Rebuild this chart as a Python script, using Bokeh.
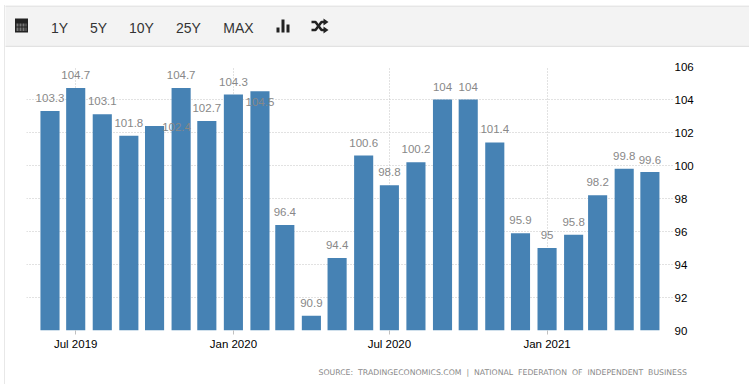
from datetime import datetime, timezone
from bokeh.core.properties import value
from bokeh.embed import file_html
from bokeh.layouts import column
from bokeh.models import ColumnDataSource, FixedTicker, LinearAxis, Range1d
from bokeh.plotting import figure
from bokeh.resources import INLINE

months = ["2019-06","2019-07","2019-08","2019-09","2019-10","2019-11","2019-12",
          "2020-01","2020-02","2020-03","2020-04","2020-05","2020-06","2020-07",
          "2020-08","2020-09","2020-10","2020-11","2020-12","2021-01","2021-02",
          "2021-03","2021-04","2021-05"]
values = [103.3,104.7,103.1,101.8,102.4,104.7,102.7,104.3,104.5,96.4,90.9,94.4,
          100.6,98.8,100.2,104,104,101.4,95.9,95,95.8,98.2,99.8,99.6]
labels = ["103.3","104.7","103.1","101.8","102.4","104.7","102.7","104.3","104.5",
          "96.4","90.9","94.4","100.6","98.8","100.2","104","104","101.4","95.9",
          "95","95.8","98.2","99.8","99.6"]
x_tick_months = ["2019-07","2020-01","2020-07","2021-01"]
x_tick_labels = ["Jul 2019","Jan 2020","Jul 2020","Jan 2021"]
y_ticks = [90,92,94,96,98,100,102,104,106]
header_items = ["1Y","5Y","10Y","25Y","MAX"]
source_text = "SOURCE: TRADINGECONOMICS.COM | NATIONAL FEDERATION OF INDEPENDENT BUSINESS"

def ms(s):
    return datetime.strptime(s, "%Y-%m-%d").replace(tzinfo=timezone.utc).timestamp()*1000
DAY = 86400000.0
xs = [ms(m+"-01") for m in months]
# per-label nudges in pixels (the original's anti-overlap placement)
dx = [0]*24; dy = [-9]*24
dx[4] = 22; dy[4] = 5      # 102.4
dy[8] = 15                 # 104.5
dy[23] = -8                # 99.6

W = 744
# ---- toolbar strip (pixel coordinates of the page)
h = figure(width=W, height=42, x_range=Range1d(5,749), y_range=Range1d(47,5),
           output_backend="svg", toolbar_location=None, min_border=0,
           x_axis_type=None, y_axis_type=None, outline_line_color=None)
h.frame_align = False
h.grid.visible = False
h.quad(left=[0], right=[760], top=[5.5], bottom=[46], fill_color="#f3f3f3",
       line_color="#e2e2e2", line_width=1.5)
h.text(x=[59,98,141,188,238], y=[27]*5, text=header_items, text_font=value("Liberation Sans"),
       text_font_size="14px", text_color="#333333", text_align="center", text_baseline="middle")
# calendar icon
h.quad(left=[14.5], right=[27.5], top=[18], bottom=[32], fill_color="#222222", line_color=None)
h.quad(left=[16,19,22,25,16,19,22,25], right=[18,21,24,26,18,21,24,26],
       top=[23,23,23,23,27,27,27,27], bottom=[26,26,26,26,30.5,30.5,30.5,30.5],
       fill_color="#f3f3f3", line_color=None, fill_alpha=.4)
# bar icon
h.quad(left=[276,281,286], right=[279,284,289], top=[27,19,24], bottom=[32,32,32],
       fill_color="#222222", line_color=None)
# shuffle icon
h.line(x=[311,315,321,325], y=[21.5,21.5,29.5,29.5], line_color="#222222", line_width=2.5)
h.line(x=[311,315,321,325], y=[29.5,29.5,21.5,21.5], line_color="#222222", line_width=2.5)
h.patch(x=[323,328,323], y=[18,21.5,25], fill_color="#222222", line_color=None)
h.patch(x=[323,328,323], y=[26,29.5,33], fill_color="#222222", line_color=None)

# ---- chart
PX_PER_DAY = 0.857
x0 = ms("2019-06-01") - (49.5-26)/PX_PER_DAY*DAY
x1 = x0 + 647/PX_PER_DAY*DAY
p = figure(width=W, height=313, x_axis_type="datetime",
           x_range=Range1d(x0,x1), y_range=Range1d(90,106),
           output_backend="svg", toolbar_location=None,
           min_border_left=21, min_border_right=76, min_border_top=19, min_border_bottom=30,
           outline_line_color=None)
p.frame_align = False
src = ColumnDataSource(dict(x=xs, top=values, label=labels, dx=dx, dy=dy))
p.vbar(x="x", top="top", bottom=90, width=22.3*DAY, source=src, fill_color="#4682b4", line_color=None)
p.text(x="x", y="top", text="label", x_offset="dx", y_offset="dy", source=src,
       text_font=value("Liberation Sans"), text_font_size="11.5px", text_color="#888888",
       text_align="center", text_baseline="bottom")
p.xaxis.ticker = FixedTicker(ticks=[ms(m+"-01") for m in x_tick_months])
p.xaxis.major_label_overrides = {ms(m+"-01"): l for m,l in zip(x_tick_months,x_tick_labels)}
p.yaxis.visible = False
r = LinearAxis(ticker=FixedTicker(ticks=y_ticks))
r.axis_line_color=None; r.major_tick_line_color=None; r.minor_tick_line_color=None
r.major_tick_in=0; r.major_tick_out=0
r.major_label_text_font="Liberation Sans"; r.major_label_text_font_size="11.5px"
r.major_label_text_color="#000000"; r.major_label_standoff=1
p.add_layout(r,"right")
xa = p.xaxis[0]
xa.axis_line_color=None; xa.minor_tick_line_color=None
xa.major_tick_line_color="#c0c0c0"; xa.major_tick_in=0; xa.major_tick_out=4
xa.major_label_text_font="Liberation Sans"; xa.major_label_text_font_size="11.5px"
xa.major_label_text_color="#000000"; xa.major_label_standoff=3
for g in (p.xgrid[0], p.ygrid[0]):
    g.grid_line_color="#c4c4c4"; g.grid_line_dash="1 2"; g.grid_line_width=1
p.xgrid[0].ticker = xa.ticker
p.ygrid[0].ticker = r.ticker

# ---- source line
f = figure(width=W, height=24, x_range=Range1d(5,749), y_range=Range1d(384,360),
           output_backend="svg", toolbar_location=None, min_border=0,
           x_axis_type=None, y_axis_type=None, outline_line_color=None,
           styles={"word-spacing":"2.5px"})
f.frame_align = False
f.grid.visible = False
f.text(x=[318], y=[372], text=[source_text], text_font=value("DejaVu Sans"),
       text_font_size="7.75px", text_color="#8a8a8a", text_baseline="middle")

layout = column(h, p, f, spacing=0, styles={"position":"absolute","left":"4px","top":"5px",
                                            "border-left":"1.5px solid #e8e8e8"})
open("out.html","w").write(file_html(layout, INLINE))
